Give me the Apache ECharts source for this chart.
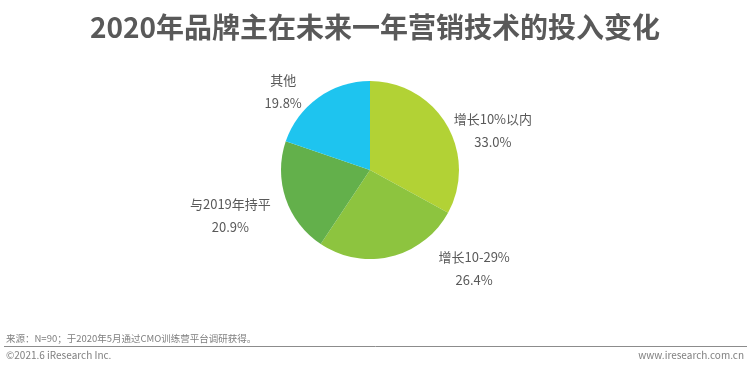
<!DOCTYPE html>
<html><head><meta charset="utf-8">
<script src="https://cdn.jsdelivr.net/npm/echarts@6/dist/echarts.min.js"></script>
<style>html,body{margin:0;padding:0;background:#fff}#c{width:750px;height:370px}</style>
</head><body><div id="c"></div>
<script>
const categories = ['增长10%以内', '增长10-29%', '与2019年持平', '其他'];
const values = [33.0, 26.4, 20.9, 19.8];
const colors = ['#b2d235', '#8dc43f', '#63b04b', '#1ec4ef'];
const labelOffsets = [[-34, 12], [10, 0], [26, 13], [42, 4]];
const title = '2020年品牌主在未来一年营销技术的投入变化';
const sourceText = '来源：N=90；于2020年5月通过CMO训练营平台调研获得。';
const copyright = '©2021.6 iResearch Inc.';
const website = 'www.iresearch.com.cn';

const chart = echarts.init(document.getElementById('c'), null, {renderer: 'canvas'});
const font = '"Noto Sans CJK SC", "Noto Sans", sans-serif';
const lineStyle = {width: 90, align: 'center', color: '#595959', fontSize: 13, lineHeight: 23, fontFamily: font};
chart.setOption({
  backgroundColor: '#fff',
  animation: false,
  title: {
    text: title, left: 'center', top: 8,
    textStyle: {fontSize: 28, fontWeight: 'bold', color: '#595959', fontFamily: font}
  },
  graphic: [
    {type: 'text', left: 6, top: 334, style: {text: sourceText, fontSize: 9.5, fill: '#7f7f7f', fontFamily: font}},
    {type: 'line', shape: {x1: 4, y1: 346.5, x2: 747, y2: 346.5}, style: {stroke: '#8c8c8c', lineWidth: 1}},
    {type: 'text', left: 6, top: 350, style: {text: copyright, fontSize: 10, fill: '#7f7f7f', fontFamily: font}},
    {type: 'text', right: 6, top: 350, style: {text: website, fontSize: 10, fill: '#7f7f7f', fontFamily: font}}
  ],
  series: [{
    type: 'pie',
    center: [370, 170],
    radius: [0, 89],
    startAngle: 90,
    clockwise: true,
    data: categories.map((n, i) => ({
      name: n, value: values[i], itemStyle: {color: colors[i]},
      label: {offset: labelOffsets[i]}
    })),
    itemStyle: {borderColor: '#fff', borderWidth: 0},
    label: {
      show: true,
      formatter: p => '{a|' + p.name + '}\n{a|' + p.value.toFixed(1) + '%}',
      rich: {a: lineStyle}
    },
    labelLine: {show: false, length: 12, length2: 20}
  }]
});
</script></body></html>
